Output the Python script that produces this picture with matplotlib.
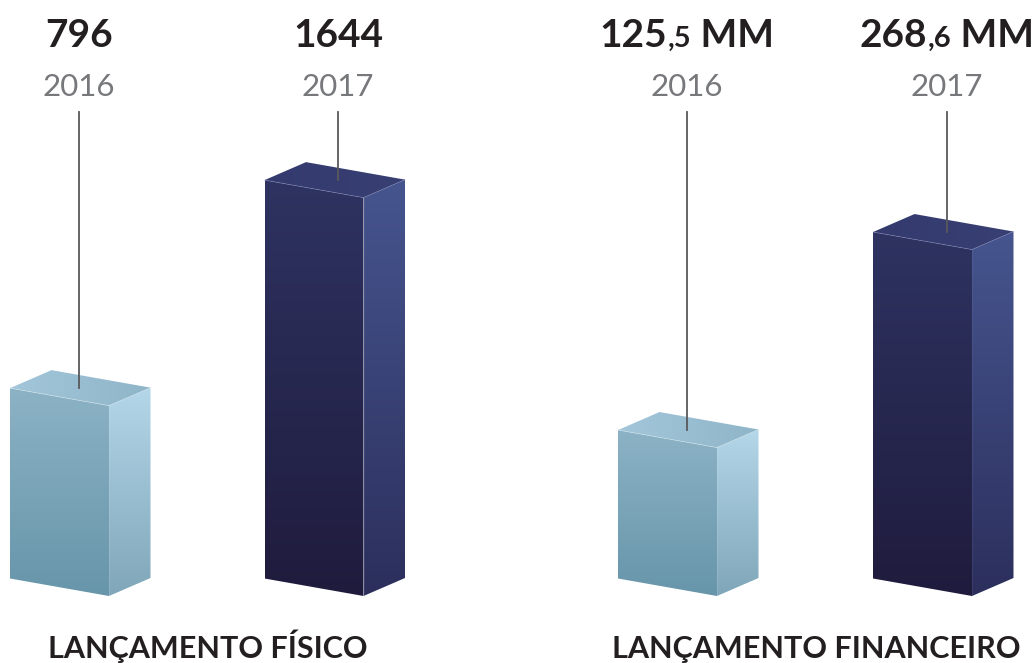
import numpy as np
import matplotlib
matplotlib.use("Agg")
import matplotlib.pyplot as plt
from matplotlib.colors import LinearSegmentedColormap
from matplotlib.patches import Polygon

plt.rcParams["font.family"] = ["Lato", "Carlito", "Open Sans", "DejaVu Sans"]

years = ["2016", "2017"]
fisico = [796, 1644]
financeiro = [125.5, 268.6]
fisico_labels = [("796", ""), ("1644", "")]
financeiro_labels = [("125", ",5"), ("268", ",6")]
titles = ["LANÇAMENTO FÍSICO", "LANÇAMENTO FINANCEIRO"]

W, H = 1035, 663
BASE_PX = 578.5  # baseline of the front-left edge
FRONT_W, FRONT_DY = 99, 17.5
SIDE_W, SIDE_DY = 41.5, -18

LIGHT = {"front": ("#8cb2c5", "#6795aa"), "side": ("#b4d7e9", "#80a6b9"),
         "top": ("#a3c6da", "#8fb5c8"), "edge": "#d4e6ef"}
DARK = {"front": ("#2e3361", "#1f1b3d"), "side": ("#46558f", "#2c2f5c"),
        "top": ("#343a6d", "#383f72"), "edge": "#7d85b5"}


def gradient(ax, pts, colors, horizontal=False):
    pts = np.array(pts)
    cmap = LinearSegmentedColormap.from_list("g", colors)
    t = np.linspace(0, 1, 256)
    img = t[None, :] if horizontal else t[:, None]
    im = ax.imshow(img, cmap=cmap, aspect="auto", origin="upper", zorder=2,
                   extent=(pts[:, 0].min(), pts[:, 0].max(), pts[:, 1].min(), pts[:, 1].max()))
    poly = Polygon(pts, closed=True, transform=ax.transData, fc="none", ec="none")
    ax.add_patch(poly)
    im.set_clip_path(poly)


def bar3d(ax, x, value, base, scale, style):
    # depth offsets are in pixels, converted to value units with scale
    d1, d2 = FRONT_DY / scale, SIDE_DY / scale
    x1, x2, x3 = x, x + FRONT_W, x + FRONT_W + SIDE_W
    front = [(x1, value), (x2, value - d1), (x2, base - d1), (x1, base)]
    side = [(x2, value - d1), (x3, value - d1 - d2), (x3, base - d1 - d2), (x2, base - d1)]
    top = [(x1, value), (x1 + SIDE_W, value - d2), (x3, value - d1 - d2), (x2, value - d1)]
    gradient(ax, front, style["front"])
    gradient(ax, side, style["side"])
    gradient(ax, top, style["top"], horizontal=True)
    for a, b in [(top[0], top[3]), (top[3], top[2])]:
        ax.plot([a[0], b[0]], [a[1], b[1]], color=style["edge"], lw=0.5, zorder=3, alpha=0.7)
    ax.plot([x2, x2], [value - d1, base - d1], color=style["edge"], lw=0.4, zorder=3, alpha=0.3)


def value_label(ax, cx, y, big, small, suffix):
    # big digits, smaller decimals and the unit, centred together on cx
    fig = ax.figure
    r = fig.canvas.get_renderer()
    tr = ax.get_xaxis_transform()
    parts = [(big, 28), (small, 21), (suffix, 28)]
    items = [ax.text(0, y, s, fontsize=fs, fontweight="bold", color="#231f20", transform=tr,
                     ha="left", va="baseline", zorder=5, clip_on=False)
             for s, fs in parts if s]
    widths = [t.get_window_extent(r).width for t in items]
    pos = cx - sum(widths) / 2
    for t, w in zip(items, widths):
        t.set_x(pos)
        pos += w


def panel(values, labels, suffix, xs, centers, base, scale, title, title_x):
    ax = fig.add_axes([0, 0, 1, 1], facecolor="none")
    for x, c, v, lab, yr, style in zip(xs, centers, values, labels, years, (LIGHT, DARK)):
        bar3d(ax, x, v, base, scale, style)
        ax.plot([c, c], [v, base + (BASE_PX - 112) / scale], color="#58595b", lw=1.3, zorder=4)
        value_label(ax, c, 1 - 47 / H, lab[0], lab[1], suffix)
        ax.text(c, 1 - 95.5 / H, yr, fontsize=22.5, color="#77787b", ha="center", va="baseline",
                transform=ax.get_xaxis_transform())
    ax.text(title_x, 1 - 658 / H, title, fontsize=22, fontweight="bold", color="#231f20",
            ha="center", va="baseline", transform=ax.get_xaxis_transform())
    ax.set_xlim(0, W)
    ax.set_ylim(base - (H - BASE_PX) / scale, base + BASE_PX / scale)
    ax.axis("off")


fig = plt.figure(figsize=(W / 100, H / 100), dpi=100, facecolor="white")
fig.canvas.draw()

panel(fisico, fisico_labels, "", [10, 264.5], [79, 338], 20, 0.2453, titles[0], 208)
panel(financeiro, financeiro_labels, " MM", [618, 873], [687, 947], 18.2, 1.3836, titles[1], 816)

fig.savefig("out.png", dpi=100)
